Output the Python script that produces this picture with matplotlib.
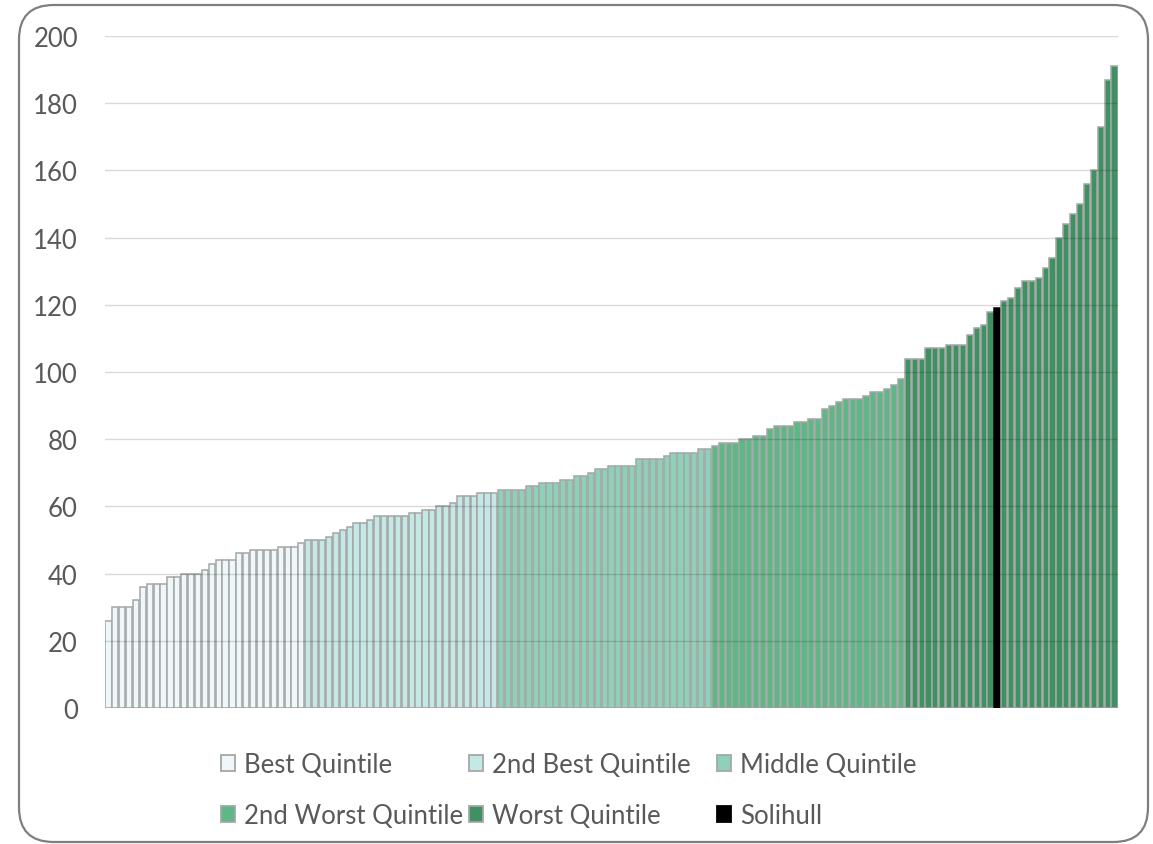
import matplotlib.pyplot as plt
import numpy as np
from matplotlib.patches import FancyBboxPatch, Patch

plt.rcParams["font.family"] = ["Lato", "DejaVu Sans"]

# values per quintile, sorted low -> high
best = [26, 30, 30, 30, 32, 36, 37, 37, 37, 39, 39, 40, 40, 40, 41, 43, 44, 44,
        44, 46, 46, 47, 47, 47, 47, 48, 48, 48, 49]
second_best = [50, 50, 50, 51, 52, 53, 54, 55, 55, 56, 57, 57, 57, 57, 57, 58,
               58, 59, 59, 60, 60, 61, 63, 63, 63, 64, 64, 64]
middle = [65, 65, 65, 65, 66, 66, 67, 67, 67, 68, 68, 69, 69, 70, 71, 71, 72,
          72, 72, 72, 74, 74, 74, 74, 75, 76, 76, 76, 76, 77, 77]
second_worst = [78, 79, 79, 79, 80, 80, 81, 81, 83, 84, 84, 84, 85, 85, 86, 86,
                89, 90, 91, 92, 92, 92, 93, 94, 94, 95, 96, 98]
worst_below = [104, 104, 104, 107, 107, 107, 108, 108, 108, 111, 113, 114, 118]
solihull = [119]
worst_above = [121, 122, 125, 127, 127, 128, 131, 134, 140, 144, 147, 150, 156,
               160, 173, 187, 191]

series_names = ["Best Quintile", "2nd Best Quintile", "Middle Quintile",
                "2nd Worst Quintile", "Worst Quintile", "Solihull"]
colors = {
    "Best Quintile": "#EEF8FA",
    "2nd Best Quintile": "#C4E8E6",
    "Middle Quintile": "#8FD1B8",
    "2nd Worst Quintile": "#5DB886",
    "Worst Quintile": "#3E9262",
    "Solihull": "#000000",
}

segments = [
    ("Best Quintile", best),
    ("2nd Best Quintile", second_best),
    ("Middle Quintile", middle),
    ("2nd Worst Quintile", second_worst),
    ("Worst Quintile", worst_below),
    ("Solihull", solihull),
    ("Worst Quintile", worst_above),
]

W, H = 1153, 845
fig = plt.figure(figsize=(W / 100, H / 100), dpi=100)
ax = fig.add_axes([105 / W, 1 - 709 / H, (1118 - 105) / W, (709 - 37) / H])

start = 0
for name, vals in segments:
    x = np.arange(start, start + len(vals))
    edge = "#000000" if name == "Solihull" else "#A6A6A6"
    ax.bar(x, vals, width=0.9, color=colors[name], edgecolor=edge,
           linewidth=1.1, zorder=2)
    start += len(vals)

ax.set_xlim(-0.5, start - 0.5)
ax.set_ylim(0, 200)
ax.set_yticks(np.arange(0, 201, 20))
ax.set_xticks([])
ax.yaxis.grid(True, color="#000000", alpha=0.15, linewidth=1.0, zorder=3)
ax.set_axisbelow(False)
for s in ax.spines.values():
    s.set_visible(False)
ax.tick_params(axis="y", length=0, pad=19.5, labelsize=18.5, labelcolor="#595959")

# legend, three columns of two rows (Excel style)
handles = {n: Patch(facecolor=colors[n],
                    edgecolor="#000000" if n == "Solihull" else "#A6A6A6",
                    linewidth=1.3) for n in series_names}
columns = [
    (["Best Quintile", "2nd Worst Quintile"], 221),
    (["2nd Best Quintile", "Worst Quintile"], 469),
    (["Middle Quintile", "Solihull"], 717),
]
for labels, xpos in columns:
    fig.legend([handles[l] for l in labels], labels,
               loc="upper left", bbox_to_anchor=(xpos / W, 1 - 753 / H),
               frameon=False, borderpad=0, borderaxespad=0,
               handlelength=0.55, handleheight=0.55, handletextpad=0.35,
               labelspacing=1.02, fontsize=18.5, labelcolor="#595959")

# rounded chart frame
frame = FancyBboxPatch((19 / W, 1 - 843 / H), (1148 - 19) / W, (843 - 6) / H,
                       boxstyle="round,pad=0,rounding_size=0.03",
                       transform=fig.transFigure, facecolor="none",
                       edgecolor="#7F7F7F", linewidth=1.6,
                       mutation_aspect=W / H, zorder=10)
fig.patches.append(frame)

fig.savefig("out.png", dpi=100)
